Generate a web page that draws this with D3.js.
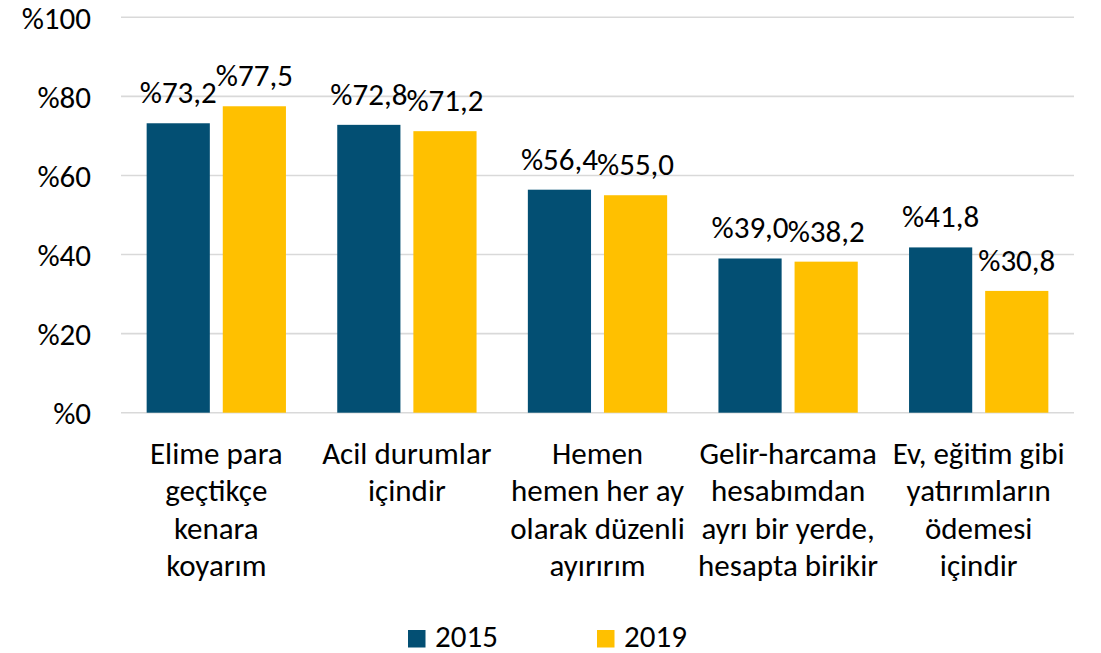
<!DOCTYPE html>
<html>
<head>
<meta charset="utf-8">
<script src="https://cdn.jsdelivr.net/npm/d3@7"></script>
<style>
  html, body { margin: 0; padding: 0; background: #fff; }
  svg { display: block; }
  text { font-family: Carlito, Calibri, "Open Sans", sans-serif; fill: #000; }
</style>
</head>
<body>
<svg id="chart" width="1101" height="653"></svg>
<script>
const categories = [
  "Elime para\ngeçtikçe\nkenara\nkoyarım",
  "Acil durumlar\niçindir",
  "Hemen\nhemen her ay\nolarak düzenli\nayırırım",
  "Gelir-harcama\nhesabımdan\nayrı bir yerde,\nhesapta birikir",
  "Ev, eğitim gibi\nyatırımların\nödemesi\niçindir"
];
const years = ["2015", "2019"];
const values2015 = [73.2, 72.8, 56.4, 39.0, 41.8];
const values2019 = [77.5, 71.2, 55.0, 38.2, 30.8];
const yTicks = [0, 20, 40, 60, 80, 100];
const colors = ["#034f73", "#ffc000"];

const seriesValues = [values2015, values2019];
const rows = categories.map((c, i) => ({ cat: c, vals: years.map((yr, j) => ({ year: yr, idx: j, v: seriesValues[j][i] })) }));

const svg = d3.select("#chart");
const pLeft = 121, pRight = 1074, pTop = 17.3, pBottom = 412.7;
const fs = 31;
const ff = 'Carlito, Calibri, "Open Sans", sans-serif';

const x0 = d3.scaleBand().domain(categories).range([pLeft, pRight]).padding(0);
const x1 = d3.scaleBand().domain(years).range([0, x0.bandwidth()]).paddingInner(0.17).paddingOuter(0.337);
const y = d3.scaleLinear().domain([0, 100]).range([pBottom, pTop]);

// gridlines
svg.append("g").selectAll("line").data(yTicks).join("line")
  .attr("x1", pLeft).attr("x2", pRight)
  .attr("y1", d => y(d)).attr("y2", d => y(d))
  .attr("stroke", "#d9d9d9").attr("stroke-width", 1.6);

// y axis labels
const yAxis = d3.axisLeft(y).tickValues(yTicks).tickFormat(d => "%" + d).tickSize(0).tickPadding(0);
const gy = svg.append("g").attr("transform", `translate(91,0)`).call(yAxis);
gy.select(".domain").remove();
gy.selectAll("text").attr("font-size", fs).attr("font-family", ff).attr("fill", "#000").attr("dy", "0.35em");

// bars
const groups = svg.append("g").selectAll("g").data(rows).join("g")
  .attr("transform", d => `translate(${x0(d.cat)},0)`);
groups.selectAll("rect").data(d => d.vals).join("rect")
  .attr("x", d => x1(d.year))
  .attr("width", x1.bandwidth())
  .attr("y", d => y(d.v))
  .attr("height", d => y(0) - y(d.v))
  .attr("fill", d => colors[d.idx]);

const fmt = v => "%" + d3.format(".1f")(v).replace(".", ",");
groups.selectAll("text.lbl").data(d => d.vals).join("text")
  .attr("class", "lbl")
  .attr("x", d => x1(d.year) + x1.bandwidth() / 2)
  .attr("y", d => y(d.v) - 20)
  .attr("text-anchor", "middle")
  .attr("font-size", fs)
  .text(d => fmt(d.v));

// x axis labels
const xAxis = d3.axisBottom(x0).tickSize(0).tickFormat("");
const gx = svg.append("g").attr("transform", `translate(0,${pBottom})`).call(xAxis);
gx.select(".domain").remove();
gx.selectAll(".tick").each(function(d) {
  const t = d3.select(this).append("text")
    .attr("text-anchor", "middle")
    .attr("font-size", fs)
    .attr("y", 51);
  d.split("\n").forEach((line, i) => {
    t.append("tspan").attr("x", 0).attr("dy", i === 0 ? 0 : 37.6).text(line);
  });
});

// legend
const legendX = [408, 597];
const lg = svg.append("g").selectAll("g").data(years).join("g")
  .attr("transform", (d, i) => `translate(${legendX[i]},630)`);
lg.append("rect").attr("width", 17.5).attr("height", 17.5).attr("fill", (d, i) => colors[i]);
lg.append("text").attr("x", 27).attr("y", 16.7).attr("font-size", fs).text(d => d);
</script>
</body>
</html>
